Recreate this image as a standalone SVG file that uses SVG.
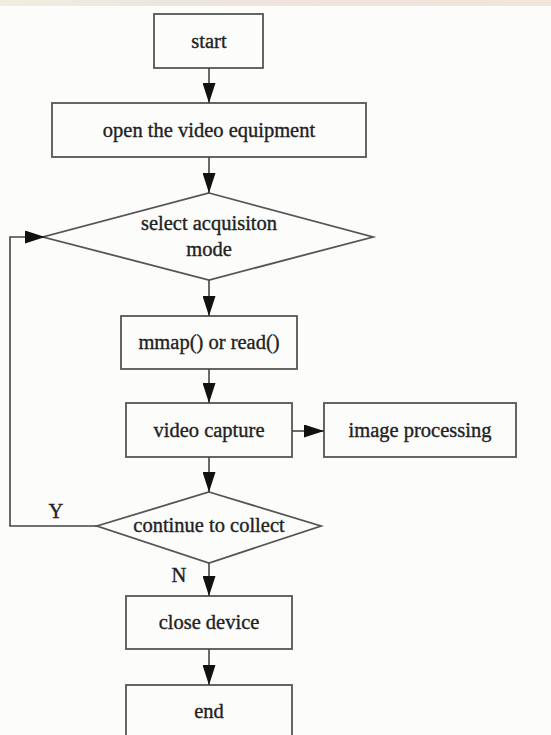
<svg xmlns="http://www.w3.org/2000/svg" width="551" height="735" viewBox="0 0 551 735">
<defs>
<linearGradient id="band" x1="0" y1="0" x2="1" y2="0">
<stop offset="0" stop-color="#f3ece0"/>
<stop offset="0.3" stop-color="#ece6df"/>
<stop offset="0.6" stop-color="#efe4dc"/>
<stop offset="1" stop-color="#f1e6da"/>
</linearGradient>
<marker id="ah" markerWidth="20" markerHeight="13" refX="20" refY="6.5" orient="auto" markerUnits="userSpaceOnUse">
<path d="M0,0 L20,6.5 L0,13 Z" fill="#111"/>
</marker>
</defs>
<style>
.box{fill:none;stroke:#555;stroke-width:1.8}
.t{font-family:"Liberation Serif","Times New Roman",serif;font-size:20.5px;fill:#222;stroke:#222;stroke-width:0.35;text-anchor:middle}
.c{fill:none;stroke:#444;stroke-width:1.6}
</style>
<rect width="551" height="735" fill="#fcfcfb"/>
<rect width="551" height="6" fill="url(#band)"/>
<g id="n-start"><rect class="box" x="154" y="14" width="109" height="54"/><text class="t" x="209" y="48">start</text></g>
<g id="n-open"><rect class="box" x="52" y="103" width="314" height="54"/><text class="t" x="209" y="137">open the video equipment</text></g>
<g id="n-select"><polygon class="box" points="209,193 373,237 209,280 43,237"/><text class="t" x="209" y="230">select acquisiton</text><text class="t" x="209" y="256">mode</text></g>
<g id="n-mmap"><rect class="box" x="121" y="316" width="176" height="53"/><text class="t" x="209" y="349">mmap() or read()</text></g>
<g id="n-capture"><rect class="box" x="126" y="403" width="166" height="54"/><text class="t" x="209" y="437">video capture</text></g>
<g id="n-image"><rect class="box" x="324" y="403" width="192" height="54"/><text class="t" x="420" y="437">image processing</text></g>
<g id="n-continue"><polygon class="box" points="209,492 321,526 209,563 97,526"/><text class="t" x="209" y="532">continue to collect</text></g>
<g id="n-close"><rect class="box" x="126" y="596" width="166" height="53"/><text class="t" x="209" y="629">close device</text></g>
<g id="n-end"><rect class="box" x="126" y="685" width="166" height="60"/><text class="t" x="209" y="718">end</text></g>
<g id="connectors">
<line class="c" x1="209" y1="68" x2="209" y2="103" marker-end="url(#ah)"/>
<line class="c" x1="209" y1="157" x2="209" y2="193" marker-end="url(#ah)"/>
<line class="c" x1="209" y1="280" x2="209" y2="316" marker-end="url(#ah)"/>
<line class="c" x1="209" y1="369" x2="209" y2="403" marker-end="url(#ah)"/>
<line class="c" x1="292" y1="431" x2="324" y2="431" marker-end="url(#ah)"/>
<line class="c" x1="209" y1="457" x2="209" y2="492" marker-end="url(#ah)"/>
<polyline class="c" points="97,526 10,526 10,237 45,237" marker-end="url(#ah)"/>
<line class="c" x1="209" y1="563" x2="209" y2="596" marker-end="url(#ah)"/>
<line class="c" x1="209" y1="649" x2="209" y2="685" marker-end="url(#ah)"/>
<text class="t" x="56" y="518">Y</text>
<text class="t" x="179" y="582">N</text>
</g>
</svg>
